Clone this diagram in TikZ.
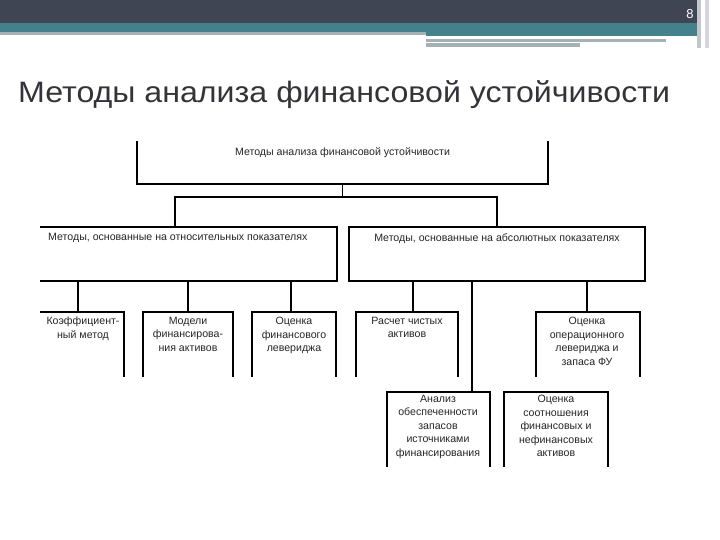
\documentclass[tikz,border=0pt]{standalone}
\usepackage{fontspec}
\setmainfont{Liberation Sans}
\usetikzlibrary{calc}
\definecolor{hdark}{HTML}{404554}
\definecolor{hteal}{HTML}{44818A}
\definecolor{hgrey}{HTML}{A4B2B6}
\definecolor{hlight}{HTML}{C4C6CE}
\definecolor{ttl}{HTML}{333339}
\begin{document}
\begin{tikzpicture}[x=1pt,y=-1pt,
  ln/.style={draw=black,line width=1.2pt},
  boxarea/.style={inner sep=0pt,outer sep=0pt,draw=none,rectangle},
  lbl/.style={font=\fontsize{10.6}{13.5}\selectfont,align=center,text=black!85,inner sep=0pt}]
\useasboundingbox (0,0) rectangle (720,540);
\fill[white] (0,0) rectangle (720,540);
% header
\fill[hdark] (0,0) rectangle (697,23.5);
\fill[hteal] (0,23.5) rectangle (697,32.5);
\fill[hgrey] (0,32.5) rectangle (426,35);
\fill[hteal] (426,32.5) rectangle (697,36);
\fill[hgrey] (426,39.5) rectangle (666,42.5);
\fill[hgrey] (426,43) rectangle (580,47.5);
\fill[hlight] (697,0) rectangle (701,48);
\fill[hlight!70] (705,0) rectangle (709,48);
\node[text=white,font=\fontsize{13}{13}\selectfont,inner sep=0pt] (pg) at (690,14) {8};
% title
\node[anchor=base west,text=ttl,font=\fontsize{29.5}{29.5}\selectfont,inner sep=0pt,xscale=1.09] (title) at (18,103) {Методы анализа финансовой устойчивости};
% box areas
\node[boxarea,minimum width=411pt,minimum height=43pt] (B0) at (342.5,162.5) {};
\node[boxarea,minimum width=297pt,minimum height=54pt] (B1) at (188.5,254) {};
\node[boxarea,minimum width=296pt,minimum height=54pt] (B2) at (497,254) {};
\node[boxarea,minimum width=84pt,minimum height=65pt] (C1) at (82,344.5) {};
\node[boxarea,minimum width=90pt,minimum height=65pt] (C2) at (188,344.5) {};
\node[boxarea,minimum width=84pt,minimum height=65pt] (C3) at (294,344.5) {};
\node[boxarea,minimum width=102pt,minimum height=65pt] (C4) at (407,344.5) {};
\node[boxarea,minimum width=104pt,minimum height=65pt] (C5) at (588,344.5) {};
\node[boxarea,minimum width=103pt,minimum height=75pt] (D1) at (438.5,429.5) {};
\node[boxarea,minimum width=104pt,minimum height=75pt] (D2) at (556,429.5) {};
% outlines (as printed)
\draw[ln] (B0.north west) -- (B0.south west) -- (B0.south east) -- (B0.north east);
\draw[ln] (B1.north west) -- (B1.north east) -- (B1.south east) -- (B1.south west);
\draw[ln] (B2.north west) rectangle (B2.south east);
\draw[ln] (C1.north west) -- (C1.north east) -- (C1.south east);
\foreach \b in {C2,C3,C4,C5,D1,D2}
  \draw[ln] (\b.south west) -- (\b.north west) -- (\b.north east) -- (\b.south east);
% connectors
\coordinate (jl) at (175,197);
\coordinate (jr) at (B2.north |- jl);
\draw[ln] (B0.south) -- (B0.south |- jl);
\draw[ln] (jl |- B1.north) -- (jl) -- (jr) -- (B2.north);
\draw[ln] ([xshift=-4pt]C1.north) -- ([xshift=-4pt]C1.north |- B1.south);
\draw[ln] (C2.north) -- (C2.north |- B1.south);
\draw[ln] ([xshift=-3pt]C3.north) -- ([xshift=-3pt]C3.north |- B1.south);
\draw[ln] ([xshift=6pt]C4.north) -- ([xshift=6pt]C4.north |- B2.south);
\draw[ln] ([xshift=-1pt]C5.north) -- ([xshift=-1pt]C5.north |- B2.south);
\draw[ln] ([xshift=33.5pt]D1.north) -- ([xshift=33.5pt]D1.north |- B2.south);
% labels
\node[lbl] (t0) at ([yshift=-12pt]B0.north) {Методы анализа финансовой устойчивости};
\node[lbl,anchor=west] (t1) at (48,238) {Методы, основанные на относительных показателях};
\node[lbl] (t2) at (497,239) {Методы, основанные на абсолютных показателях};
\node[lbl,anchor=north] (tc1) at (83,317) {Коэффициент-\\ный метод};
\node[lbl,anchor=north] (tc2) at (188,317) {Модели\\финансирова-\\ния активов};
\node[lbl,anchor=north] (tc3) at (294,317) {Оценка\\финансового\\левериджа};
\node[lbl,anchor=north] (tc4) at (407,317) {Расчет чистых\\активов};
\node[lbl,anchor=north] (tc5) at (587,317) {Оценка\\операционного\\левериджа и\\запаса ФУ};
\node[lbl,anchor=north] (td1) at (438,395) {Анализ\\обеспеченности\\запасов\\источниками\\финансирования};
\node[lbl,anchor=north] (td2) at (556,395) {Оценка\\соотношения\\финансовых и\\нефинансовых\\активов};
\end{tikzpicture}
\end{document}
